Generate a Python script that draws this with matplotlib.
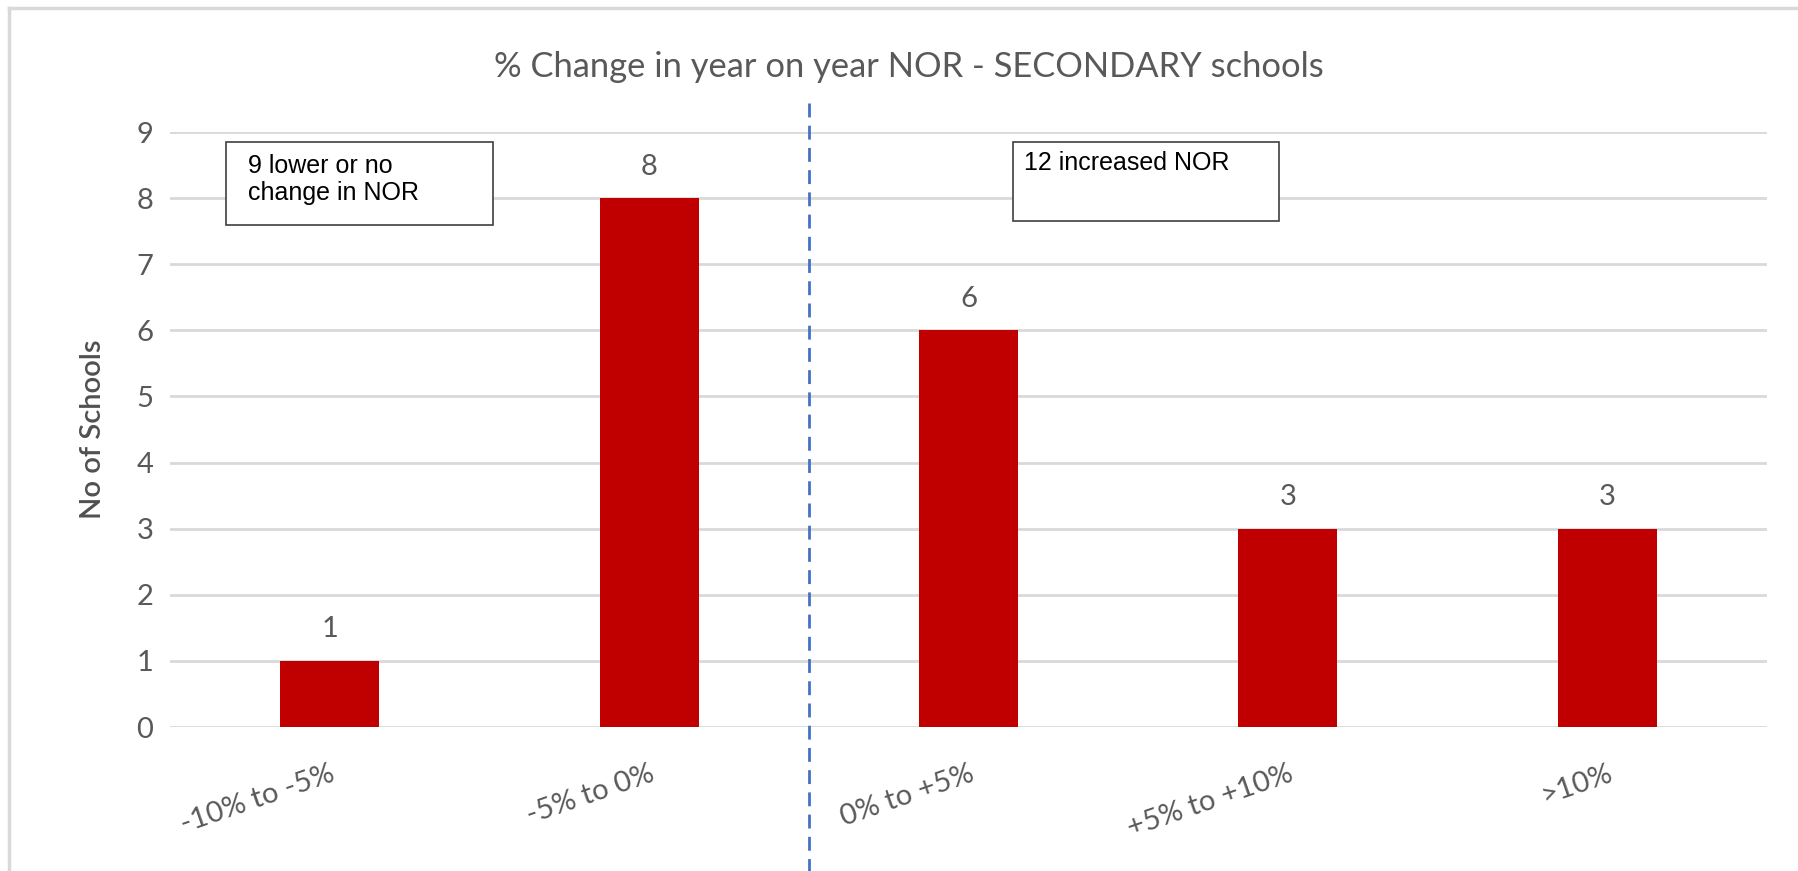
import matplotlib.pyplot as plt
from matplotlib.patches import Rectangle
from matplotlib.lines import Line2D
from matplotlib.transforms import blended_transform_factory

categories = ['-10% to -5%', '-5% to 0%', '0% to +5%', '+5% to +10%', '>10%']
schools = [1, 8, 6, 3, 3]
yticks = list(range(0, 10))

W, H = 1799, 871
fig = plt.figure(figsize=(W / 100, H / 100), dpi=100)
ax = fig.add_axes([170 / W, 1 - 727 / H, (1767 - 170) / W, (727 - 132) / H])

grey = '#595959'
grid = '#d9d9d9'
font = 'Lato'

x = list(range(len(categories)))
ax.bar(x, schools, width=0.31, color='#c00000', zorder=3)
for xi, v in zip(x, schools):
    ax.text(xi, v + 0.28, str(v), ha='center', va='bottom', fontsize=21,
            color=grey, family=font)

ax.set_xlim(-0.5, len(categories) - 0.5)
ax.set_ylim(0, 9)
ax.set_yticks(yticks)
ax.yaxis.grid(True, color=grid, linewidth=2)
ax.set_axisbelow(True)
for s in ax.spines.values():
    s.set_visible(False)
ax.tick_params(length=0, labelsize=21, labelcolor=grey, pad=12)
for lbl in ax.get_yticklabels():
    lbl.set_family(font)

ax.set_xticks(x)
ax.set_xticklabels(categories, rotation=19, ha='right', rotation_mode='anchor',
                   family=font, fontsize=21, color=grey)
ax.tick_params(axis='x', pad=24)

ax.set_ylabel('No of Schools', fontsize=21, color='#505050', family=font,
              fontweight='semibold', labelpad=22)

fig.text(909 / W, 1 - 67 / H, '% Change in year on year NOR - SECONDARY schools',
         ha='center', va='center', fontsize=24.8, color=grey, family=font)

# divider between falling and rising rolls
tr = blended_transform_factory(ax.transData, fig.transFigure)
fig.add_artist(Line2D([1.5, 1.5], [1 - 103 / H, 0], transform=tr,
                      color='#4472c4', linewidth=2, linestyle=(0, (5, 3))))

# annotation boxes
def note(x0, y0, x1, y1, txt, tx, ty):
    fig.add_artist(Rectangle((x0 / W, 1 - y1 / H), (x1 - x0) / W, (y1 - y0) / H,
                             transform=fig.transFigure, facecolor='white',
                             edgecolor='#404040', linewidth=1.2, zorder=5))
    fig.text(tx / W, 1 - ty / H, txt, ha='left', va='top', fontsize=18,
             family='Liberation Sans', color='black', linespacing=1.15, zorder=6)

note(226, 142, 493, 225, '9 lower or no\nchange in NOR', 248, 154)
note(1013, 142, 1279, 221, '12 increased NOR', 1024, 151)

# outer frame (top and left edges)
fig.add_artist(Line2D([9 / W, 1], [1 - 8 / H, 1 - 8 / H], transform=fig.transFigure,
                      color=grid, linewidth=2.5))
fig.add_artist(Line2D([9 / W, 9 / W], [0, 1 - 8 / H], transform=fig.transFigure,
                      color=grid, linewidth=2.5))

fig.savefig('out.png', dpi=100)
